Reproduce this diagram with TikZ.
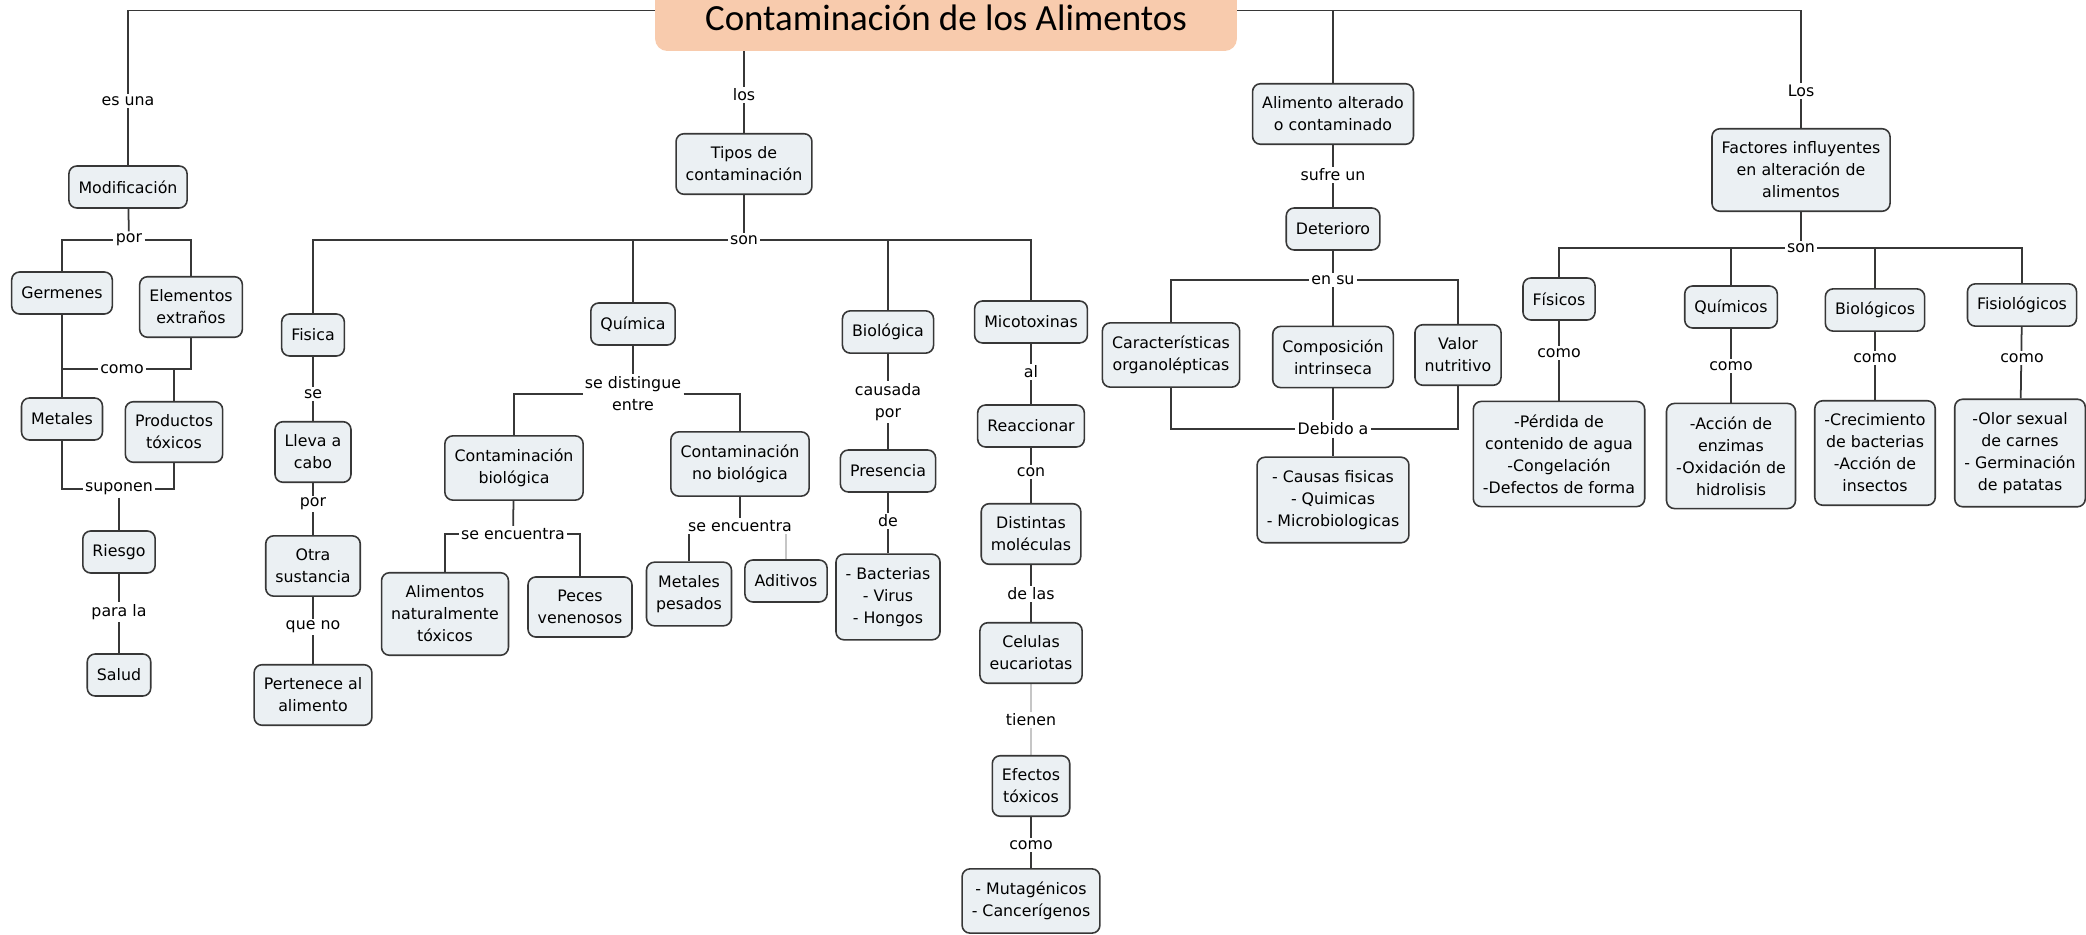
\documentclass[tikz,border=0pt]{standalone}
\usepackage{fontspec}
\setmainfont{DejaVu Sans}
\newfontfamily\titlefont{Carlito}
\usepackage{tikz}
\usetikzlibrary{
    calc,
    positioning,
    backgrounds
}
\newcommand{\mapfont}{\fontsize{9}{12.5}\selectfont}

\begin{document}
\begin{tikzpicture}[
    x=0.02cm, y=-0.02cm,
    concept/.style={
        draw=edge,
        fill=boxfill,
        line width=0.9pt,
        rounded corners=4.5pt,
        inner xsep=5.5pt,
        inner ysep=7.5pt,
        minimum height=0.84cm,
        align=center,
        anchor=center,
        font=\mapfont
    },
    link/.style={
        fill=white,
        inner sep=1.2pt,
        align=center,
        anchor=center,
        font=\mapfont
    },
    wire/.style={
        draw=edge,
        line width=1pt
    },
    faint/.style={
        draw=gray!45,
        line width=1pt
    }]
    \definecolor{edge}{RGB}{55, 55, 55}
    \definecolor{boxfill}{RGB}{235, 240, 243}
    \definecolor{peach}{RGB}{248, 203, 173}

    \useasboundingbox (0,0) rectangle (2086,935);

    \node[fill=peach, rounded corners=7pt, minimum width=11.64cm, minimum height=1.62cm] (title) at (946,10.5) {};
    \node[anchor=base, font=\titlefont\fontsize{21}{25}\selectfont] (titletext) at (946,31) {Contaminación de los Alimentos};

    \node[link] (esuna) at (128,101) {es una};
    \node[concept] (modif) at (128,187) {Modificación};
    \node[link] (por1) at (129,240) {por};
    \node[concept] (germ) at (62,293) {Germenes};
    \node[concept] (elem) at (191,307) {Elementos\\extraños};
    \node[link] (como1) at (122,369) {como};
    \node[concept] (metales) at (62,419) {Metales};
    \node[concept] (prod) at (174,432) {Productos\\tóxicos};
    \node[link] (suponen) at (119,489) {suponen};
    \node[concept] (riesgo) at (119,552) {Riesgo};
    \node[link] (parala) at (119,612) {para la};
    \node[concept] (salud) at (119,675) {Salud};

    \node[link] (los) at (744,95) {los};
    \node[concept] (tipos) at (744,164) {Tipos de\\contaminación};
    \node[link] (son1) at (744,240) {son};

    \node[concept] (fisica) at (313,335) {Fisica};
    \node[link] (se) at (313,394) {se};
    \node[concept] (lleva) at (313,452) {Lleva a\\cabo};
    \node[link] (por2) at (313,504) {por};
    \node[concept] (otra) at (313,566) {Otra\\sustancia};
    \node[link] (queno) at (313,627) {que no};
    \node[concept] (pertenece) at (313,695) {Pertenece al\\alimento};

    \node[concept] (quim) at (633,324) {Química};
    \node[link] (distingue) at (633,394) {se distingue\\entre};
    \node[concept] (cbio) at (514,468) {Contaminación\\biológica};
    \node[concept] (cnobio) at (740,464) {Contaminación\\no biológica};
    \node[link] (enc1) at (513,534) {se encuentra};
    \node[concept] (alnat) at (445,614) {Alimentos\\naturalmente\\tóxicos};
    \node[concept] (peces) at (580,607) {Peces\\venenosos};
    \node[link] (enc2) at (740,526) {se encuentra};
    \node[concept] (metpes) at (689,594) {Metales\\pesados};
    \node[concept] (aditivos) at (786,581) {Aditivos};

    \node[concept] (biol) at (888,332) {Biológica};
    \node[link] (causada) at (888,402) {causada\\por};
    \node[concept] (presencia) at (888,471) {Presencia};
    \node[link] (de1) at (888,521) {de};
    \node[concept] (bact) at (888,597) {- Bacterias\\- Virus\\- Hongos};

    \node[concept] (mico) at (1031,322) {Micotoxinas};
    \node[link] (al) at (1031,372) {al};
    \node[concept] (reacc) at (1031,426) {Reaccionar};
    \node[link] (con) at (1031,472) {con};
    \node[concept] (distintas) at (1031,534) {Distintas\\moléculas};
    \node[link] (delas) at (1031,594) {de las};
    \node[concept] (celulas) at (1031,653) {Celulas\\eucariotas};
    \node[link] (tienen) at (1031,720) {tienen};
    \node[concept] (efectos) at (1031,786) {Efectos\\tóxicos};
    \node[link] (como2) at (1031,845) {como};
    \node[concept] (mutag) at (1031,901) {- Mutagénicos\\- Cancerígenos};

    \node[concept] (alim) at (1333,114) {Alimento alterado\\o contaminado};
    \node[link] (sufre) at (1333,175) {sufre un};
    \node[concept] (deter) at (1333,229) {Deterioro};
    \node[link] (ensu) at (1333,280) {en su};
    \node[concept] (caract) at (1171,355) {Características\\organolépticas};
    \node[concept] (compo) at (1333,357) {Composición\\intrinseca};
    \node[concept] (valor) at (1458,355) {Valor\\nutritivo};
    \node[link] (debido) at (1333,429) {Debido a};
    \node[concept] (causas) at (1333,500) {- Causas fisicas\\- Quimicas\\- Microbiologicas};

    \node[link] (los2) at (1801,91) {Los};
    \node[concept] (factores) at (1801,170) {Factores influyentes\\en alteración de\\alimentos};
    \node[link] (son2) at (1801,248) {son};
    \node[concept] (fisicos) at (1559,299) {Físicos};
    \node[concept] (quims) at (1731,307) {Químicos};
    \node[concept] (biols) at (1875,310) {Biológicos};
    \node[concept] (fisiol) at (2022,305) {Fisiológicos};
    \node[link] (como3) at (1559,353) {como};
    \node[link] (como4) at (1731,366) {como};
    \node[link] (como5) at (1875,358) {como};
    \node[link] (como6) at (2022,358) {como};
    \node[concept] (lfis) at (1559,454) {-Pérdida de\\contenido de agua\\-Congelación\\-Defectos de forma};
    \node[concept] (lqui) at (1731,456) {-Acción de\\enzimas\\-Oxidación de\\hidrolisis};
    \node[concept] (lbio) at (1875,453) {-Crecimiento\\de bacterias\\-Acción de\\insectos};
    \node[concept] (lfisiol) at (2020,453) {-Olor sexual\\de carnes\\- Germinación\\de patatas};

    \begin{pgfonlayer}{background}
    \draw[wire] (title.west) -| (modif);
    \draw[wire] (modif) -- (por1);
    \draw[wire] (germ) |- (por1) -| (elem);
    \draw[wire] (germ) -- (metales);
    \draw[wire] (elem) |- (como1) -- (germ |- como1);
    \draw[wire] (prod |- como1) -- (prod);
    \draw[wire] (metales) |- (suponen) -| (prod);
    \draw[wire] (suponen) -- (riesgo) -- (salud);

    \draw[wire] (tipos |- title.south) -- (tipos) -- (son1);
    \draw[wire] (fisica) |- (son1) -| (mico);
    \draw[wire] (quim) -- (quim |- son1);
    \draw[wire] (biol) -- (biol |- son1);
    \draw[wire] (fisica) -- (lleva) -- (otra) -- (pertenece);

    \draw[wire] (quim) -- (distingue);
    \draw[wire] (cbio) |- (distingue) -| (cnobio);
    \draw[wire] (cbio) -- (enc1);
    \draw[wire] (alnat) |- (enc1) -| (peces);
    \draw[wire] (cnobio) -- (enc2);
    \draw[wire] (enc2.south -| metpes) -- (metpes);
    \draw[faint] (enc2.south -| aditivos) -- (aditivos);

    \draw[wire] (biol) -- (presencia) -- (bact);

    \draw[wire] (mico) -- (reacc) -- (distintas) -- (celulas);
    \draw[faint] (celulas) -- (efectos);
    \draw[wire] (efectos) -- (mutag);

    \draw[wire] (title.east) -| (alim);
    \draw[wire] (alim) -- (deter) -- (ensu);
    \draw[wire] (caract) |- (ensu) -| (valor);
    \draw[wire] (ensu) -- (compo) -- (debido) -- (causas);
    \draw[wire] (caract) |- (debido) -| (valor);

    \draw[wire] (title.east) -| (factores);
    \draw[wire] (factores) -- (son2);
    \draw[wire] (fisicos) |- (son2) -| (fisiol);
    \draw[wire] (quims) -- (quims |- son2);
    \draw[wire] (biols) -- (biols |- son2);
    \draw[wire] (fisicos) -- (lfis);
    \draw[wire] (quims) -- (lqui);
    \draw[wire] (biols) -- (lbio);
    \draw[wire] (fisiol) -- (lfisiol);
    \end{pgfonlayer}
\end{tikzpicture}
\end{document}
